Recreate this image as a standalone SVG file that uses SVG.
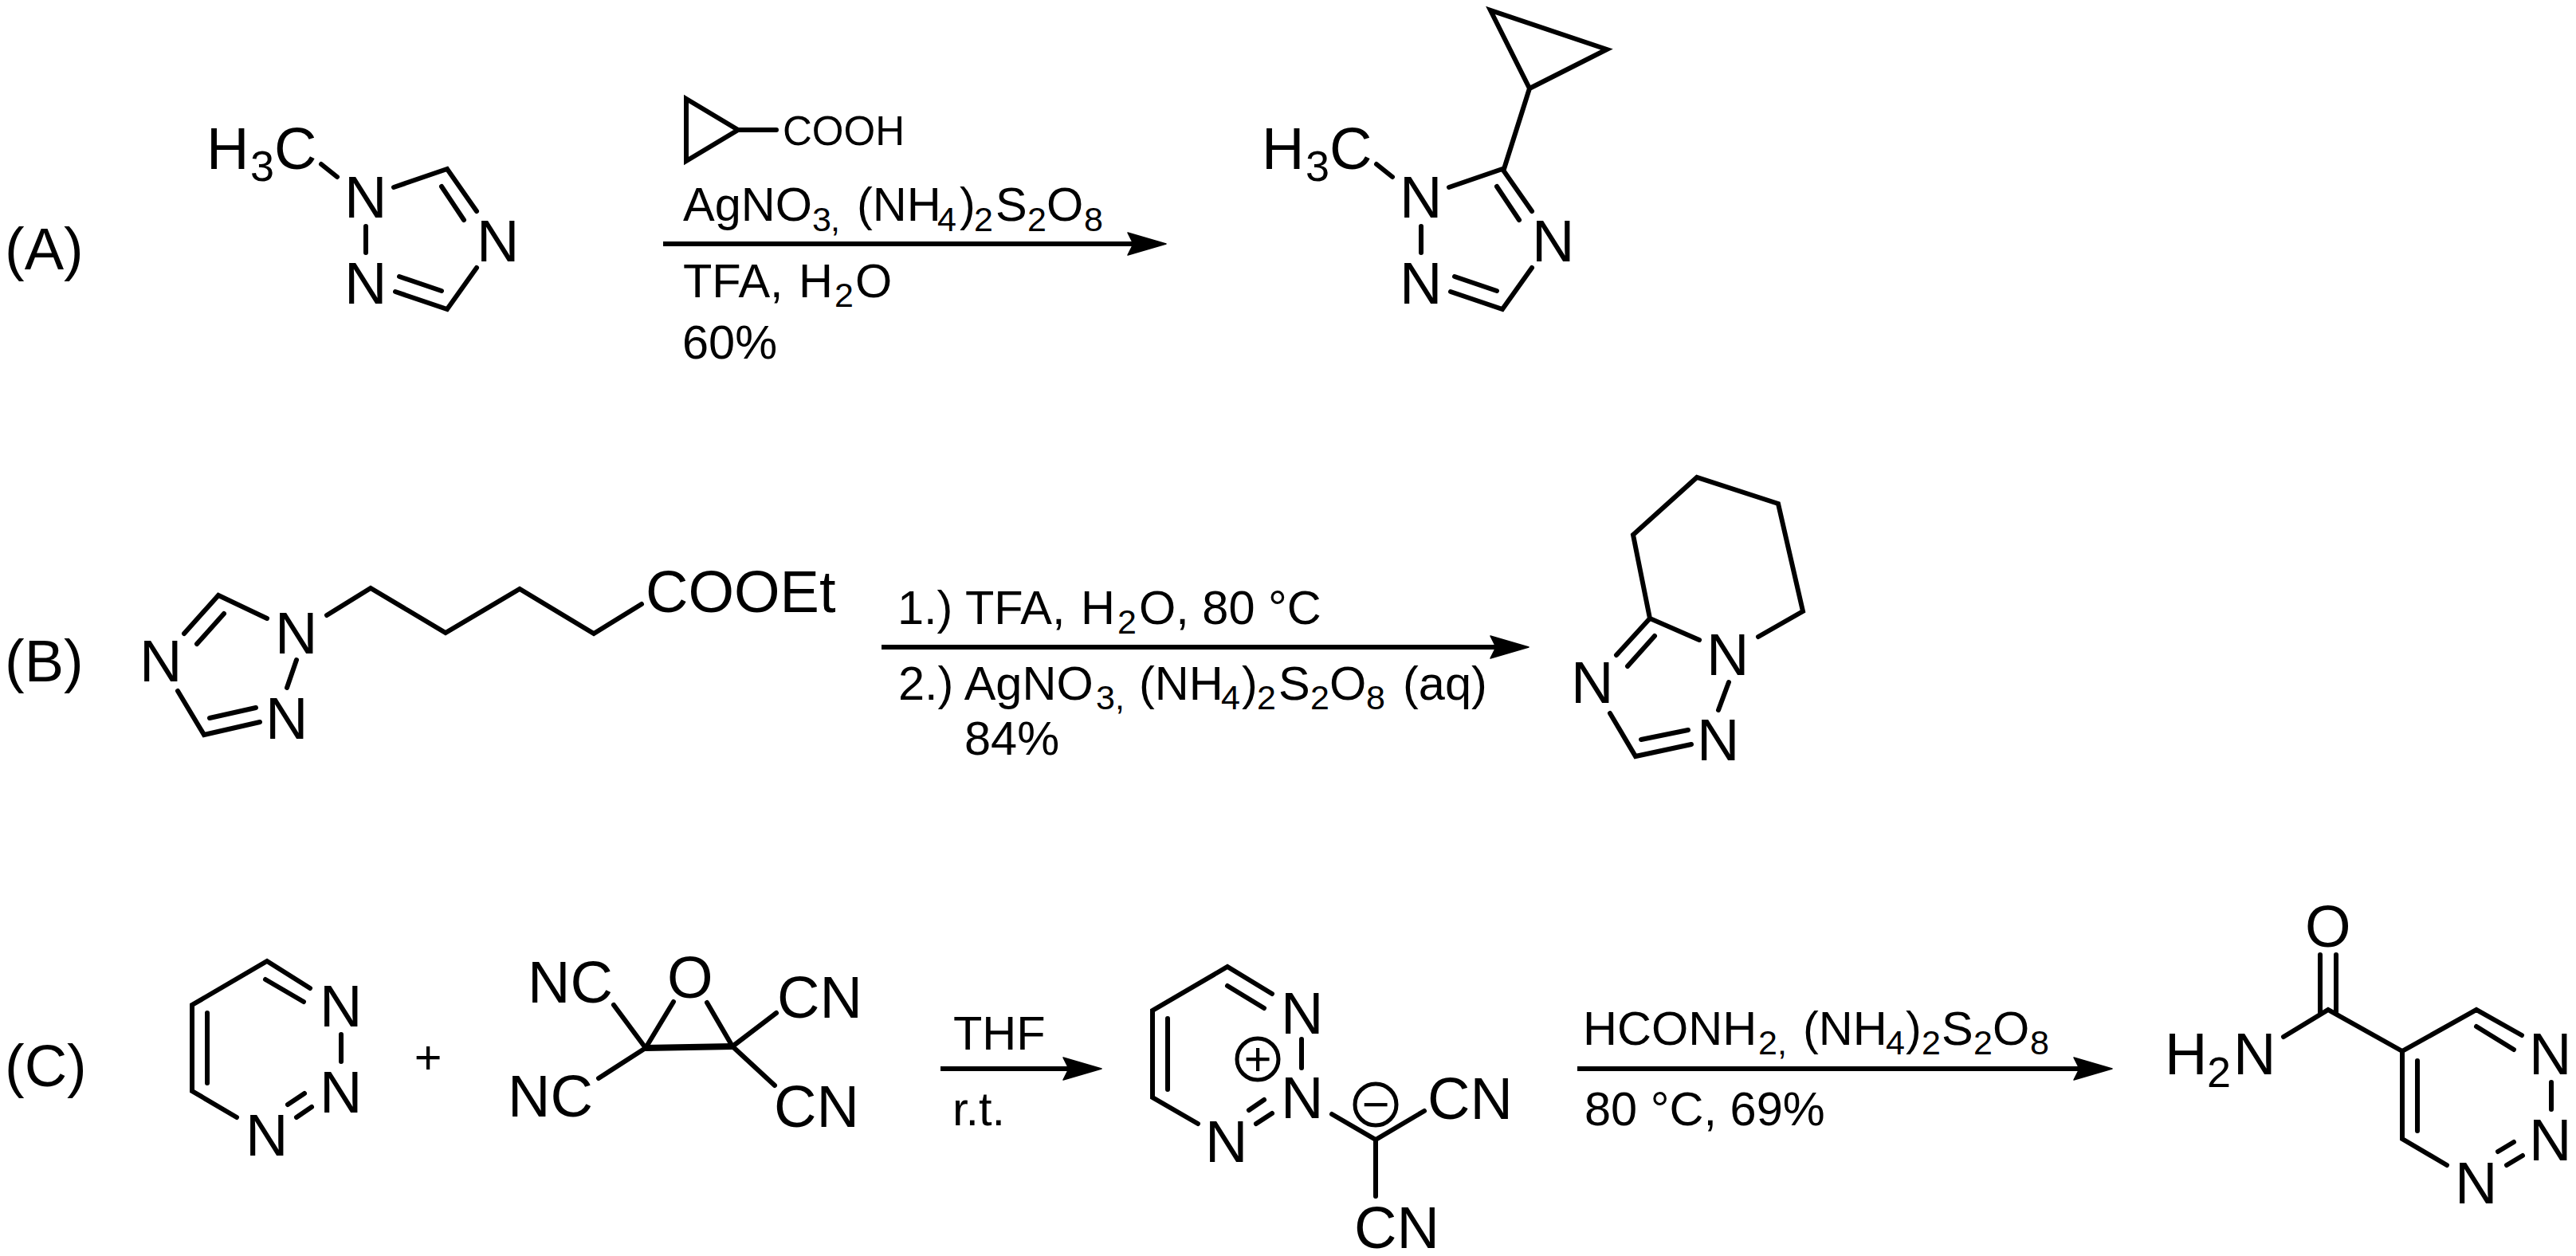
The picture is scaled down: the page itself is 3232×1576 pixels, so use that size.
<svg xmlns="http://www.w3.org/2000/svg" width="3232" height="1576" viewBox="0 0 3232 1576">
<style>
text{font-family:"Liberation Sans",Arial,sans-serif;fill:#000}
.l{font-size:74px}.m{font-size:59.5px}.r{font-size:51px}.s{font-size:43px}.b{font-size:54px}
.bond{fill:none;stroke:#000;stroke-width:6;stroke-linecap:round;stroke-linejoin:miter}
.thick{stroke-width:8}
.arrow{fill:none;stroke:#000;stroke-width:6;marker-end:url(#head)}
.chg{fill:none;stroke:#000;stroke-width:5}
</style>
<defs>
<marker id="head" markerUnits="userSpaceOnUse" markerWidth="52" markerHeight="34" refX="9" refY="17" orient="auto">
<path d="M2,3 L50,17 L2,31 L9,17 Z" fill="#000" stroke="#000" stroke-width="1.5" stroke-linejoin="round"/>
</marker>
<g id="triazole-a">
<path class="bond" d="M403,206L423,222M494,235L561,212L598,265M554,234L582,276M598,336L561,388L496,366M554,365L501,347M459,284L459,317"/>
<text class="b" x="314" y="227">3</text>
<text class="l" x="259" y="212">H</text><text class="l" x="344" y="212">C</text>
<text class="l" x="432" y="273">N</text><text class="l" x="598" y="328">N</text><text class="l" x="432" y="381">N</text>
</g>
</defs>
<rect width="3232" height="1576" fill="#fff"/>

<g id="connectors">
<path class="arrow" d="M832,306H1422"/>
<path class="arrow" d="M1106,812H1877"/>
<path class="arrow" d="M1180,1341H1341"/>
<path class="arrow" d="M1979,1341H2609"/>
</g>

<g id="label-a"><text class="l" x="6" y="338">(A)</text></g>
<g id="label-b"><text class="l" x="6" y="855">(B)</text></g>
<g id="label-c"><text class="l" x="6" y="1363">(C)</text></g>

<g id="reactant-a"><use href="#triazole-a"/></g>

<g id="reagents-a">
<path class="bond" d="M861,124L926,163L861,202ZM926,163L974,163"/>
<text class="r" x="982" y="182">COOH</text>
<text class="m" x="857" y="277">AgNO</text><text class="s" x="1019" y="290">3</text><text class="s" x="1042" y="290">,</text>
<text class="m" x="1075" y="277">(NH</text><text class="s" x="1176" y="290">4</text><text class="m" x="1204" y="277">)</text><text class="s" x="1222" y="290">2</text>
<text class="m" x="1249" y="277">S</text><text class="s" x="1289" y="290">2</text><text class="m" x="1313" y="277">O</text><text class="s" x="1360" y="290">8</text>
<text class="m" x="857" y="373">TFA,</text><text class="m" x="1002" y="373">H</text><text class="s" x="1047" y="385">2</text><text class="m" x="1073" y="373">O</text>
<text class="m" x="856" y="450">60%</text>
</g>

<g id="product-a">
<use href="#triazole-a" x="1324"/>
<path class="bond" d="M1887,212L1919,111L1870,13L2016,62L1919,111"/>
</g>

<g id="reactant-b">
<path class="bond" d="M335,776L274,747L231,795M281,770L247,808M372,828L360,863M223,867L256,922L326,906M263,901L321,888"/>
<path class="bond" d="M410,772L465,738L559,794L652,739L745,795L805,758"/>
<text class="l" x="175" y="855">N</text><text class="l" x="345" y="820">N</text><text class="l" x="333" y="927">N</text>
<text class="l" x="810" y="768">COOEt</text>
</g>

<g id="reagents-b">
<text class="m" x="1126" y="783">1.) TFA,</text><text class="m" x="1356" y="783">H</text><text class="s" x="1402" y="795">2</text><text class="m" x="1429" y="783">O, 80 °C</text>
<text class="m" x="1127" y="878">2.) AgNO</text><text class="s" x="1375" y="890">3</text><text class="s" x="1399" y="890">,</text>
<text class="m" x="1429" y="878">(NH</text><text class="s" x="1532" y="890">4</text><text class="m" x="1558" y="878">)</text><text class="s" x="1577" y="890">2</text>
<text class="m" x="1604" y="878">S</text><text class="s" x="1644" y="890">2</text><text class="m" x="1668" y="878">O</text><text class="s" x="1714" y="890">8</text>
<text class="m" x="1760" y="878">(aq)</text>
<text class="m" x="1210" y="947">84%</text>
</g>

<g id="product-b">
<path class="bond" d="M2132,803L2070,776L2049,671L2129,599L2231,632L2262,767L2206,799M2070,776L2028,822M2076,798L2042,836M2169,856L2156,891M2020,895L2052,949L2122,934M2059,928L2118,916"/>
<text class="l" x="1971" y="882">N</text><text class="l" x="2141" y="847">N</text><text class="l" x="2129" y="954">N</text>
</g>

<g id="reactant-c1">
<path class="bond" d="M389,1240L335,1206L241,1261L241,1369L297,1402M381,1257L333,1229M260,1271L260,1359M428,1298L428,1332M382,1372L361,1386M391,1389L372,1402"/>
<text class="l" x="401" y="1288">N</text><text class="l" x="401" y="1396">N</text><text class="l" x="308" y="1450">N</text>
</g>
<g id="plus"><text class="m" x="537" y="1347" text-anchor="middle">+</text></g>

<g id="reactant-c2">
<path class="bond" d="M845,1257L810,1315M887,1258L919,1313M810,1315L770,1261M810,1315L751,1353M919,1313L974,1271M919,1313L972,1362"/>
<path class="bond thick" d="M810,1315L919,1313"/>
<text class="l" x="837" y="1252">O</text>
<text class="l" x="662" y="1258">NC</text><text class="l" x="637" y="1401">NC</text>
<text class="l" x="975" y="1277">CN</text><text class="l" x="971" y="1414">CN</text>
</g>

<g id="reagents-c1">
<text class="m" x="1196" y="1317">THF</text>
<text class="m" x="1195" y="1412">r.t.</text>
</g>

<g id="intermediate-c">
<path class="bond" d="M1596,1247L1540,1213L1446,1268L1446,1377L1503,1410M1586,1265L1540,1237M1465,1278L1465,1367M1633,1304L1633,1340M1586,1380L1567,1393M1596,1397L1576,1410"/>
<path class="bond" d="M1671,1398L1726,1430L1787,1394M1726,1430L1726,1501"/>
<text class="l" x="1607" y="1297">N</text><text class="l" x="1607" y="1403">N</text><text class="l" x="1512" y="1458">N</text>
<ellipse class="chg" cx="1578" cy="1329" rx="26" ry="26"/>
<text class="m" x="1578" y="1349" text-anchor="middle">+</text>
<ellipse class="chg" cx="1726" cy="1386" rx="26" ry="26"/>
<text class="m" x="1726" y="1406" text-anchor="middle">−</text>
<text class="l" x="1791" y="1404">CN</text><text class="l" x="1699" y="1566">CN</text>
</g>

<g id="reagents-c2">
<text class="m" x="1986" y="1311">HCONH</text><text class="s" x="2206" y="1323">2</text><text class="s" x="2230" y="1323">,</text>
<text class="m" x="2262" y="1311">(NH</text><text class="s" x="2366" y="1323">4</text><text class="m" x="2391" y="1311">)</text><text class="s" x="2411" y="1323">2</text>
<text class="m" x="2436" y="1311">S</text><text class="s" x="2476" y="1323">2</text><text class="m" x="2500" y="1311">O</text><text class="s" x="2547" y="1323">8</text>
<text class="m" x="1988" y="1412">80 °C, 69%</text>
</g>

<g id="product-c">
<path class="bond" d="M3164,1299L3107,1267L3014,1319L3014,1429L3070,1462M3154,1317L3107,1288M3033,1331L3033,1419M3201,1358L3201,1392M3134,1445L3154,1433M3145,1462L3165,1450"/>
<path class="bond" d="M2865,1301L2921,1267L3014,1319M2911,1198L2911,1272M2931,1198L2931,1272"/>
<text class="l" x="3173" y="1348">N</text><text class="l" x="3173" y="1456">N</text><text class="l" x="3080" y="1510">N</text>
<text class="l" x="2892" y="1188">O</text>
<text class="l" x="2716" y="1348">H</text><text class="b" x="2769" y="1364">2</text><text class="l" x="2802" y="1348">N</text>
</g>
</svg>
